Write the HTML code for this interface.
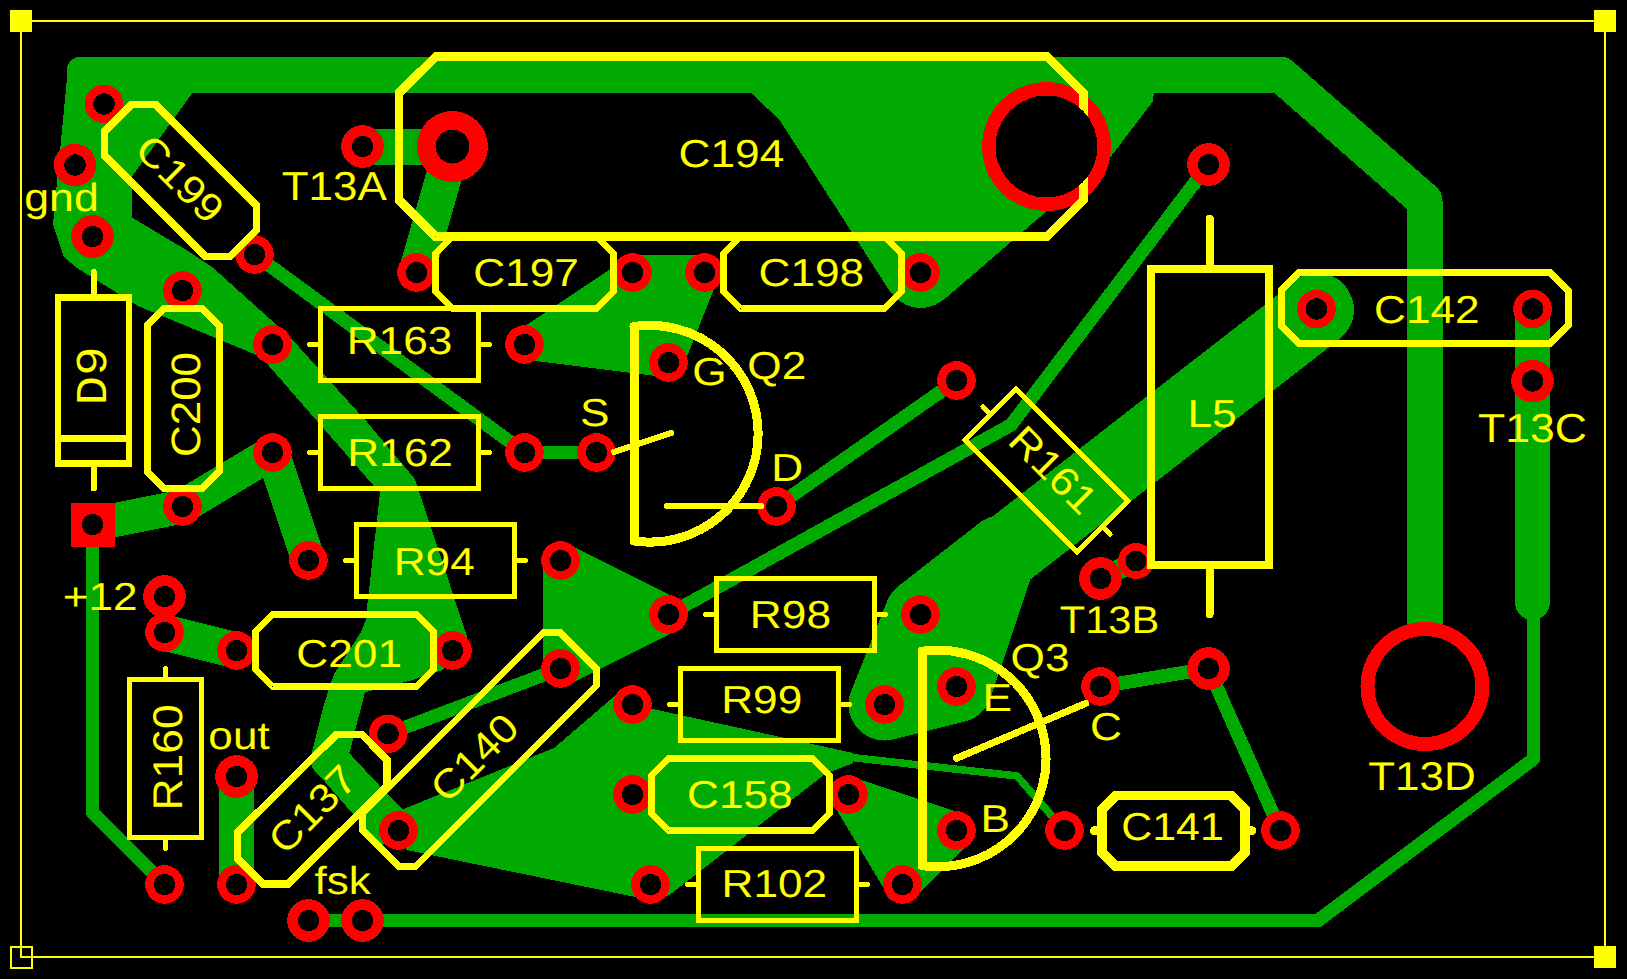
<!DOCTYPE html>
<html><head><meta charset="utf-8"><style>html,body{margin:0;padding:0;background:#000;}svg{display:block}</style></head>
<body><svg width="1627" height="979" viewBox="0 0 1627 979" shape-rendering="crispEdges" text-rendering="geometricPrecision">
<rect width="1627" height="979" fill="#000"/>
<g><polyline points="85,75 1280.5,74.5 1424.5,200.5 1424.5,686.5" fill="none" stroke="#00AA00" stroke-width="36" stroke-linecap="round" stroke-linejoin="round"/><polygon points="68,68 76,57 200,57 192,93.5 132,176.5 131.6,217.3 186.4,250 213.3,268 290,337 367,422 414.6,478.7 467,636 468,650 442.2,670 409,681 361,693.4 352.4,722.9 347.5,751.2 396.7,804 410,840 380,845 312,767 312,752 323,708 334,674 361,632 365.5,621 380,493 318.2,422.4 267.5,364.3 256.5,355 138,306 77,268 64,257 53,224" fill="#00AA00"/><circle cx="79.5" cy="69.5" r="12.5" fill="#00AA00"/><polyline points="347,690 329,760 398.5,830.5" fill="none" stroke="#00AA00" stroke-width="36" stroke-linecap="round" stroke-linejoin="round"/><polyline points="254.5,254.5 524.5,452.5 596.5,452.5" fill="none" stroke="#00AA00" stroke-width="13.5" stroke-linecap="round" stroke-linejoin="round"/><polyline points="362.5,146.5 452.5,146.5 416.5,272.5" fill="none" stroke="#00AA00" stroke-width="36" stroke-linecap="round" stroke-linejoin="round"/><polyline points="92.5,524.5 182.5,506.5 272.5,452.5 308.5,560.5" fill="none" stroke="#00AA00" stroke-width="34" stroke-linecap="round" stroke-linejoin="round"/><polyline points="92.5,524.5 92.5,812.5 164.5,884.5" fill="none" stroke="#00AA00" stroke-width="13.5" stroke-linecap="round" stroke-linejoin="round"/><polyline points="164.5,632.5 236.5,650.5" fill="none" stroke="#00AA00" stroke-width="36" stroke-linecap="round" stroke-linejoin="round"/><polyline points="236.5,776.5 236.5,884.5" fill="none" stroke="#00AA00" stroke-width="35" stroke-linecap="round" stroke-linejoin="round"/><polyline points="308.5,920.5 1318,920.5 1533.5,759 1533.5,600" fill="none" stroke="#00AA00" stroke-width="13.5" stroke-linecap="round" stroke-linejoin="round"/><polyline points="1532.5,308.5 1532.5,602.5" fill="none" stroke="#00AA00" stroke-width="35" stroke-linecap="round" stroke-linejoin="round"/><polygon points="560.5,560.5 668.5,614.5 560.5,668.5" fill="#00AA00" stroke="#00AA00" stroke-width="36" stroke-linejoin="round"/><polyline points="668.5,614.5 1011,425 1208.5,164.5" fill="none" stroke="#00AA00" stroke-width="13.5" stroke-linecap="round" stroke-linejoin="round"/><polyline points="776.5,506.5 956.5,380.5" fill="none" stroke="#00AA00" stroke-width="13.5" stroke-linecap="round" stroke-linejoin="round"/><polyline points="388,733.8 560.5,668.5" fill="none" stroke="#00AA00" stroke-width="13.5" stroke-linecap="round" stroke-linejoin="round"/><polygon points="391.7,813.8 554,748 620.8,690.8 632.5,704.5 852.6,752.9 852.6,763.4 825.5,773.8 670.6,894.2 650,903 633.8,896.7 406.5,850" fill="#00AA00"/><polyline points="852,757.5 1017,776 1064.5,830.5" fill="none" stroke="#00AA00" stroke-width="7.5" stroke-linecap="round" stroke-linejoin="round"/><polyline points="1317.5,310 922,617.5" fill="none" stroke="#00AA00" stroke-width="73" stroke-linecap="round" stroke-linejoin="round"/><circle cx="1317" cy="309" r="36.5" fill="#00AA00"/><polygon points="920.5,614.5 884.5,704.5 956.5,686.5 1002,551" fill="#00AA00" stroke="#00AA00" stroke-width="72" stroke-linejoin="round"/><polyline points="1100.5,578.5 1136.5,560.5" fill="none" stroke="#00AA00" stroke-width="20" stroke-linecap="round" stroke-linejoin="round"/><polyline points="1100.5,686.5 1208.5,668.5 1280.5,830.5" fill="none" stroke="#00AA00" stroke-width="13.5" stroke-linecap="round" stroke-linejoin="round"/><polygon points="750.7,92.7 779.3,119.6 890.7,292.7 920.5,290 943.6,300 1046.8,211.2 1106,163 1152.6,101.8 1154,93" fill="#00AA00"/><circle cx="920.5" cy="272.5" r="35.5" fill="#00AA00"/><polygon points="848.5,794.5 956.5,830.5 902.5,884.5" fill="#00AA00" stroke="#00AA00" stroke-width="36" stroke-linejoin="round"/><polyline points="632.5,272.5 704.5,272.5" fill="none" stroke="#00AA00" stroke-width="36" stroke-linecap="round" stroke-linejoin="round"/><polygon points="524.5,344.5 632.5,272.5 704.5,272.5 668.5,362.5" fill="#00AA00" stroke="#00AA00" stroke-width="30" stroke-linejoin="round"/></g>
<g><circle cx="104" cy="104" r="19.3" fill="#FF0000"/><circle cx="254.5" cy="254.5" r="19.3" fill="#FF0000"/><circle cx="182.5" cy="290.5" r="19.3" fill="#FF0000"/><circle cx="416.5" cy="272.5" r="19.3" fill="#FF0000"/><circle cx="632.5" cy="272.5" r="19.3" fill="#FF0000"/><circle cx="704.5" cy="272.5" r="19.3" fill="#FF0000"/><circle cx="920.5" cy="272.5" r="19.3" fill="#FF0000"/><circle cx="272.5" cy="344.5" r="19.3" fill="#FF0000"/><circle cx="524.5" cy="344.5" r="19.3" fill="#FF0000"/><circle cx="272.5" cy="452.5" r="19.3" fill="#FF0000"/><circle cx="524.5" cy="452.5" r="19.3" fill="#FF0000"/><circle cx="182.5" cy="506.5" r="19.3" fill="#FF0000"/><circle cx="308.5" cy="560.5" r="19.3" fill="#FF0000"/><circle cx="560.5" cy="560.5" r="19.3" fill="#FF0000"/><circle cx="164.5" cy="632.5" r="19.3" fill="#FF0000"/><circle cx="236.5" cy="650.5" r="19.3" fill="#FF0000"/><circle cx="452.5" cy="650.5" r="19.3" fill="#FF0000"/><circle cx="164.5" cy="884.5" r="19.3" fill="#FF0000"/><circle cx="236.5" cy="884.5" r="19.3" fill="#FF0000"/><circle cx="388" cy="733.8" r="19.3" fill="#FF0000"/><circle cx="398.5" cy="830.5" r="19.3" fill="#FF0000"/><circle cx="560.5" cy="668.5" r="19.3" fill="#FF0000"/><circle cx="668.5" cy="362.5" r="19.3" fill="#FF0000"/><circle cx="596.5" cy="452.5" r="19.3" fill="#FF0000"/><circle cx="776.5" cy="506.5" r="19.3" fill="#FF0000"/><circle cx="668.5" cy="614.5" r="19.3" fill="#FF0000"/><circle cx="920.5" cy="614.5" r="19.3" fill="#FF0000"/><circle cx="956.5" cy="380.5" r="19.3" fill="#FF0000"/><circle cx="632.5" cy="704.5" r="19.3" fill="#FF0000"/><circle cx="884.5" cy="704.5" r="19.3" fill="#FF0000"/><circle cx="956.5" cy="686.5" r="19.3" fill="#FF0000"/><circle cx="956.5" cy="830.5" r="19.3" fill="#FF0000"/><circle cx="1100.5" cy="686.5" r="19.3" fill="#FF0000"/><circle cx="632.5" cy="794.5" r="19.3" fill="#FF0000"/><circle cx="848.5" cy="794.5" r="19.3" fill="#FF0000"/><circle cx="650.5" cy="884.5" r="19.3" fill="#FF0000"/><circle cx="902.5" cy="884.5" r="19.3" fill="#FF0000"/><circle cx="1064.5" cy="830.5" r="19.3" fill="#FF0000"/><circle cx="1280.5" cy="830.5" r="19.3" fill="#FF0000"/><circle cx="1316.5" cy="309" r="19.3" fill="#FF0000"/><circle cx="1532.5" cy="309" r="19.3" fill="#FF0000"/><circle cx="75" cy="165" r="21.3" fill="#FF0000"/><circle cx="92.5" cy="236.5" r="21.3" fill="#FF0000"/><circle cx="362.5" cy="146.5" r="21.3" fill="#FF0000"/><circle cx="164.5" cy="596.5" r="21.3" fill="#FF0000"/><circle cx="236.5" cy="776.5" r="21.3" fill="#FF0000"/><circle cx="308.5" cy="920.5" r="21.3" fill="#FF0000"/><circle cx="362.5" cy="920.5" r="21.3" fill="#FF0000"/><circle cx="1208.5" cy="164.5" r="21.3" fill="#FF0000"/><circle cx="1208.5" cy="668.5" r="21.3" fill="#FF0000"/><circle cx="1532.5" cy="381" r="21.3" fill="#FF0000"/><circle cx="1100.5" cy="578.5" r="21.3" fill="#FF0000"/><circle cx="1136" cy="561" r="18" fill="#FF0000"/><circle cx="452.5" cy="146.5" r="35.5" fill="#FF0000"/><circle cx="1046.5" cy="146.5" r="64.5" fill="#FF0000"/><circle cx="1425" cy="686.5" r="64.5" fill="#FF0000"/><rect x="71" y="503" width="43.5" height="43.5" fill="#FF0000"/></g>
<g><polygon points="320.5,308.5 478.5,308.5 478.5,380.5 320.5,380.5" fill="none" stroke="#FFFF00" stroke-width="5" stroke-linejoin="miter"/><polyline points="309.5,344.5 320.5,344.5" fill="none" stroke="#FFFF00" stroke-width="5" stroke-linecap="round" stroke-linejoin="miter"/><polyline points="478.5,344.5 489.5,344.5" fill="none" stroke="#FFFF00" stroke-width="5" stroke-linecap="round" stroke-linejoin="miter"/><polygon points="320.5,416.5 478.5,416.5 478.5,488.5 320.5,488.5" fill="none" stroke="#FFFF00" stroke-width="5" stroke-linejoin="miter"/><polyline points="309.5,452.5 320.5,452.5" fill="none" stroke="#FFFF00" stroke-width="5" stroke-linecap="round" stroke-linejoin="miter"/><polyline points="478.5,452.5 489.5,452.5" fill="none" stroke="#FFFF00" stroke-width="5" stroke-linecap="round" stroke-linejoin="miter"/><polygon points="356.7,524.5 514.7,524.5 514.7,596.5 356.7,596.5" fill="none" stroke="#FFFF00" stroke-width="5" stroke-linejoin="miter"/><polyline points="345.7,560.5 356.7,560.5" fill="none" stroke="#FFFF00" stroke-width="5" stroke-linecap="round" stroke-linejoin="miter"/><polyline points="514.7,560.5 525.7,560.5" fill="none" stroke="#FFFF00" stroke-width="5" stroke-linecap="round" stroke-linejoin="miter"/><polygon points="716.5,578.5 874.5,578.5 874.5,650.5 716.5,650.5" fill="none" stroke="#FFFF00" stroke-width="5" stroke-linejoin="miter"/><polyline points="705.5,614.5 716.5,614.5" fill="none" stroke="#FFFF00" stroke-width="5" stroke-linecap="round" stroke-linejoin="miter"/><polyline points="874.5,614.5 885.5,614.5" fill="none" stroke="#FFFF00" stroke-width="5" stroke-linecap="round" stroke-linejoin="miter"/><polygon points="680.5,668.5 838.5,668.5 838.5,740.5 680.5,740.5" fill="none" stroke="#FFFF00" stroke-width="5" stroke-linejoin="miter"/><polyline points="669.5,704.5 680.5,704.5" fill="none" stroke="#FFFF00" stroke-width="5" stroke-linecap="round" stroke-linejoin="miter"/><polyline points="838.5,704.5 849.5,704.5" fill="none" stroke="#FFFF00" stroke-width="5" stroke-linecap="round" stroke-linejoin="miter"/><polygon points="698.5,848.5 856.5,848.5 856.5,920.5 698.5,920.5" fill="none" stroke="#FFFF00" stroke-width="5" stroke-linejoin="miter"/><polyline points="687.5,884.5 698.5,884.5" fill="none" stroke="#FFFF00" stroke-width="5" stroke-linecap="round" stroke-linejoin="miter"/><polyline points="856.5,884.5 867.5,884.5" fill="none" stroke="#FFFF00" stroke-width="5" stroke-linecap="round" stroke-linejoin="miter"/><polygon points="201.8,679.5 201.8,837.5 129.8,837.5 129.8,679.5" fill="none" stroke="#FFFF00" stroke-width="5" stroke-linejoin="miter"/><polyline points="165.8,668.5 165.8,679.5" fill="none" stroke="#FFFF00" stroke-width="5" stroke-linecap="round" stroke-linejoin="miter"/><polyline points="165.8,837.5 165.8,848.5" fill="none" stroke="#FFFF00" stroke-width="5" stroke-linecap="round" stroke-linejoin="miter"/><polygon points="1016.1,389.2 1127.8,500.9 1076.9,551.8 965.2,440.1" fill="none" stroke="#FFFF00" stroke-width="5" stroke-linejoin="miter"/><polyline points="982.9,406.9 990.6,414.6" fill="none" stroke="#FFFF00" stroke-width="5" stroke-linecap="round" stroke-linejoin="miter"/><polyline points="1102.4,526.4 1110.1,534.1" fill="none" stroke="#FFFF00" stroke-width="5" stroke-linecap="round" stroke-linejoin="miter"/><polygon points="435.5,253.5 452.5,236.5 596.5,236.5 613.5,253.5 613.5,291.5 596.5,308.5 452.5,308.5 435.5,291.5" fill="none" stroke="#FFFF00" stroke-width="7" stroke-linejoin="miter"/><polygon points="723.5,253.5 740.5,236.5 884.5,236.5 901.5,253.5 901.5,291.5 884.5,308.5 740.5,308.5 723.5,291.5" fill="none" stroke="#FFFF00" stroke-width="7" stroke-linejoin="miter"/><polygon points="255.5,631.5 272.5,614.5 416.5,614.5 433.5,631.5 433.5,669.5 416.5,686.5 272.5,686.5 255.5,669.5" fill="none" stroke="#FFFF00" stroke-width="7" stroke-linejoin="miter"/><polygon points="651.5,775.5 668.5,758.5 812.5,758.5 829.5,775.5 829.5,813.5 812.5,830.5 668.5,830.5 651.5,813.5" fill="none" stroke="#FFFF00" stroke-width="7" stroke-linejoin="miter"/><polygon points="202.4,308.5 219.4,325.5 219.4,471.5 202.4,488.5 164.4,488.5 147.4,471.5 147.4,325.5 164.4,308.5" fill="none" stroke="#FFFF00" stroke-width="7" stroke-linejoin="miter"/><polygon points="131.6,104.7 155.6,104.7 256.6,205.7 256.6,229.8 229.8,256.6 205.7,256.6 104.7,155.6 104.7,131.6" fill="none" stroke="#FFFF00" stroke-width="7.5" stroke-linejoin="miter"/><polygon points="237.3,858.3 237.3,832.9 336.4,734.4 361.8,734.4 387.2,760.0 387.2,785.4 288.1,883.9 262.7,883.9" fill="none" stroke="#FFFF00" stroke-width="7.5" stroke-linejoin="miter"/><polygon points="362.8,830.1 362.8,813.2 543.2,632.8 560.1,632.8 596.2,668.9 596.2,685.8 415.8,866.2 398.9,866.2" fill="none" stroke="#FFFF00" stroke-width="7" stroke-linejoin="miter"/><polygon points="1101.9,809.5 1115.9,795.5 1231.3,795.5 1245.3,809.5 1245.3,852.2 1231.3,866.2 1115.9,866.2 1101.9,852.2" fill="none" stroke="#FFFF00" stroke-width="9.7" stroke-linejoin="miter"/><polyline points="1094.5,830.8 1100,830.8" fill="none" stroke="#FFFF00" stroke-width="9" stroke-linecap="round" stroke-linejoin="miter"/><polyline points="1247,830.8 1252,830.8" fill="none" stroke="#FFFF00" stroke-width="9" stroke-linecap="round" stroke-linejoin="miter"/><polygon points="1281.0,290.3 1299.0,272.3 1550.0,272.3 1568.0,290.3 1568.0,325.7 1550.0,343.7 1299.0,343.7 1281.0,325.7" fill="none" stroke="#FFFF00" stroke-width="7" stroke-linejoin="miter"/><polygon points="399,93 435.5,56.8 1047,56.8 1083.5,93 1083.5,200 1047,236.5 435.5,236.5 399,200" fill="none" stroke="#FFFF00" stroke-width="8.7" stroke-linejoin="miter"/><polygon points="58,297.5 129,297.5 129,463.5 58,463.5" fill="none" stroke="#FFFF00" stroke-width="6.4" stroke-linejoin="miter"/><polyline points="58,438.5 129,438.5" fill="none" stroke="#FFFF00" stroke-width="6.4" stroke-linecap="butt" stroke-linejoin="miter"/><polyline points="93.7,272 93.7,297" fill="none" stroke="#FFFF00" stroke-width="6" stroke-linecap="round" stroke-linejoin="miter"/><polyline points="93.7,464 93.7,488.5" fill="none" stroke="#FFFF00" stroke-width="6" stroke-linecap="round" stroke-linejoin="miter"/><polygon points="1150.6,268.8 1268.7,268.8 1268.7,564.7 1150.6,564.7" fill="none" stroke="#FFFF00" stroke-width="8" stroke-linejoin="miter"/><polyline points="1209.7,218.7 1209.7,268" fill="none" stroke="#FFFF00" stroke-width="8" stroke-linecap="round" stroke-linejoin="miter"/><polyline points="1209.7,565 1209.7,614.2" fill="none" stroke="#FFFF00" stroke-width="8" stroke-linecap="round" stroke-linejoin="miter"/><path d="M634,326.5 L634,541 A108.4,108.4 0 1 0 634,326.5 Z" fill="none" stroke="#FFFF00" stroke-width="9" stroke-linejoin="round"/><polyline points="614.1,452 671.4,432.8" fill="none" stroke="#FFFF00" stroke-width="6" stroke-linecap="round" stroke-linejoin="miter"/><polyline points="667.4,505.9 760.8,505.9" fill="none" stroke="#FFFF00" stroke-width="6.5" stroke-linecap="round" stroke-linejoin="miter"/><path d="M922,651.3 L922,865.6 A108.3,108.3 0 1 0 922,651.3 Z" fill="none" stroke="#FFFF00" stroke-width="9" stroke-linejoin="round"/><polyline points="956.4,758.3 1085.5,703.5" fill="none" stroke="#FFFF00" stroke-width="7" stroke-linecap="round" stroke-linejoin="miter"/><rect x="21" y="21" width="1584" height="936" fill="none" stroke="#FFFF00" stroke-width="2"/><rect x="10" y="10" width="22" height="22" fill="#FFFF00"/><rect x="1594" y="10" width="22" height="22" fill="#FFFF00"/><rect x="1594" y="946" width="22" height="22" fill="#FFFF00"/><rect x="11" y="947" width="21" height="21" fill="none" stroke="#FFFF00" stroke-width="2"/></g>
<g shape-rendering="auto"><text transform="translate(399.5 354.3) scale(1.134 1)" font-family="Liberation Sans" font-size="39" fill="#FFFF00" text-anchor="middle">R163</text><text transform="translate(400 465.8) scale(1.134 1)" font-family="Liberation Sans" font-size="39" fill="#FFFF00" text-anchor="middle">R162</text><text transform="translate(434.2 575.3) scale(1.134 1)" font-family="Liberation Sans" font-size="39" fill="#FFFF00" text-anchor="middle">R94</text><text transform="translate(790.4 627.8) scale(1.134 1)" font-family="Liberation Sans" font-size="39" fill="#FFFF00" text-anchor="middle">R98</text><text transform="translate(761.7 713.4) scale(1.134 1)" font-family="Liberation Sans" font-size="39" fill="#FFFF00" text-anchor="middle">R99</text><text transform="translate(774.3 897.4) scale(1.134 1)" font-family="Liberation Sans" font-size="39" fill="#FFFF00" text-anchor="middle">R102</text><text transform="translate(526 286.2) scale(1.134 1)" font-family="Liberation Sans" font-size="39" fill="#FFFF00" text-anchor="middle">C197</text><text transform="translate(811.3 286.2) scale(1.134 1)" font-family="Liberation Sans" font-size="39" fill="#FFFF00" text-anchor="middle">C198</text><text transform="translate(349.1 666.5) scale(1.134 1)" font-family="Liberation Sans" font-size="39" fill="#FFFF00" text-anchor="middle">C201</text><text transform="translate(739.8 808.3) scale(1.134 1)" font-family="Liberation Sans" font-size="39" fill="#FFFF00" text-anchor="middle">C158</text><text transform="translate(1172.5 839.6) scale(1.1 1)" font-family="Liberation Sans" font-size="39" fill="#FFFF00" text-anchor="middle">C141</text><text transform="translate(1426.8 323.3) scale(1.134 1)" font-family="Liberation Sans" font-size="39" fill="#FFFF00" text-anchor="middle">C142</text><text transform="translate(731.4 167.2) scale(1.134 1)" font-family="Liberation Sans" font-size="39" fill="#FFFF00" text-anchor="middle">C194</text><text transform="translate(1212 427.4) scale(1.134 1)" font-family="Liberation Sans" font-size="39" fill="#FFFF00" text-anchor="middle">L5</text><text transform="translate(776.8 378.5) scale(1.134 1)" font-family="Liberation Sans" font-size="39" fill="#FFFF00" text-anchor="middle">Q2</text><text transform="translate(1040 671) scale(1.134 1)" font-family="Liberation Sans" font-size="39" fill="#FFFF00" text-anchor="middle">Q3</text><text transform="translate(334.2 200.3) scale(1.085 1)" font-family="Liberation Sans" font-size="40.5" fill="#FFFF00" text-anchor="middle">T13A</text><text transform="translate(1109.5 633.4) scale(1.08 1)" font-family="Liberation Sans" font-size="38.5" fill="#FFFF00" text-anchor="middle">T13B</text><text transform="translate(1532.5 441.6) scale(1.1 1)" font-family="Liberation Sans" font-size="40.5" fill="#FFFF00" text-anchor="middle">T13C</text><text transform="translate(1422 789.5) scale(1.1 1)" font-family="Liberation Sans" font-size="40" fill="#FFFF00" text-anchor="middle">T13D</text><text transform="translate(709.5 385.2) scale(1.134 1)" font-family="Liberation Sans" font-size="39" fill="#FFFF00" text-anchor="middle">G</text><text transform="translate(594.8 425.7) scale(1.134 1)" font-family="Liberation Sans" font-size="39" fill="#FFFF00" text-anchor="middle">S</text><text transform="translate(787.2 480.7) scale(1.134 1)" font-family="Liberation Sans" font-size="39" fill="#FFFF00" text-anchor="middle">D</text><text transform="translate(997.3 711.3) scale(1.134 1)" font-family="Liberation Sans" font-size="39" fill="#FFFF00" text-anchor="middle">E</text><text transform="translate(995.3 831.5) scale(1.134 1)" font-family="Liberation Sans" font-size="39" fill="#FFFF00" text-anchor="middle">B</text><text transform="translate(1106 740) scale(1.134 1)" font-family="Liberation Sans" font-size="39" fill="#FFFF00" text-anchor="middle">C</text><text transform="translate(61.5 210.6) scale(1.13 1)" font-family="Liberation Sans" font-size="39.5" fill="#FFFF00" text-anchor="middle">gnd</text><text transform="translate(100.2 609.8) scale(1.13 1)" font-family="Liberation Sans" font-size="39" fill="#FFFF00" text-anchor="middle">+12</text><text transform="translate(239 749.2) scale(1.13 1)" font-family="Liberation Sans" font-size="39" fill="#FFFF00" text-anchor="middle">out</text><text transform="translate(342.6 894.3) scale(1.13 1)" font-family="Liberation Sans" font-size="39" fill="#FFFF00" text-anchor="middle">fsk</text><text transform="translate(167 757.5) rotate(-90) scale(1.07 1) translate(0 14.86)" font-family="Liberation Sans" font-size="41.5" fill="#FFFF00" text-anchor="middle">R160</text><text transform="translate(185.6 404.5) rotate(-90) scale(1.07 1) translate(0 14.68)" font-family="Liberation Sans" font-size="41" fill="#FFFF00" text-anchor="middle">C200</text><text transform="translate(90.5 376) rotate(-90) scale(1.12 1) translate(0 15.75)" font-family="Liberation Mono" font-size="44" fill="#FFFF00" text-anchor="middle">D9</text><text transform="translate(180.3 178.6) rotate(45) scale(1.1 1) translate(0 14.32)" font-family="Liberation Sans" font-size="40" fill="#FFFF00" text-anchor="middle">C199</text><text transform="translate(312 809) rotate(-45) scale(1.1 1) translate(0 14.32)" font-family="Liberation Sans" font-size="40" fill="#FFFF00" text-anchor="middle">C137</text><text transform="translate(474.1 757.3) rotate(-45) scale(1.1 1) translate(0 14.32)" font-family="Liberation Sans" font-size="40" fill="#FFFF00" text-anchor="middle">C140</text><text transform="translate(1053.6 469.6) rotate(45) scale(1.1 1) translate(0 14.32)" font-family="Liberation Sans" font-size="40" fill="#FFFF00" text-anchor="middle">R161</text></g>
<g><circle cx="104" cy="104" r="10.7" fill="#000"/><circle cx="254.5" cy="254.5" r="10.7" fill="#000"/><circle cx="182.5" cy="290.5" r="10.7" fill="#000"/><circle cx="416.5" cy="272.5" r="10.7" fill="#000"/><circle cx="632.5" cy="272.5" r="10.7" fill="#000"/><circle cx="704.5" cy="272.5" r="10.7" fill="#000"/><circle cx="920.5" cy="272.5" r="10.7" fill="#000"/><circle cx="272.5" cy="344.5" r="10.7" fill="#000"/><circle cx="524.5" cy="344.5" r="10.7" fill="#000"/><circle cx="272.5" cy="452.5" r="10.7" fill="#000"/><circle cx="524.5" cy="452.5" r="10.7" fill="#000"/><circle cx="182.5" cy="506.5" r="10.7" fill="#000"/><circle cx="308.5" cy="560.5" r="10.7" fill="#000"/><circle cx="560.5" cy="560.5" r="10.7" fill="#000"/><circle cx="164.5" cy="632.5" r="10.7" fill="#000"/><circle cx="236.5" cy="650.5" r="10.7" fill="#000"/><circle cx="452.5" cy="650.5" r="10.7" fill="#000"/><circle cx="164.5" cy="884.5" r="10.7" fill="#000"/><circle cx="236.5" cy="884.5" r="10.7" fill="#000"/><circle cx="388" cy="733.8" r="10.7" fill="#000"/><circle cx="398.5" cy="830.5" r="10.7" fill="#000"/><circle cx="560.5" cy="668.5" r="10.7" fill="#000"/><circle cx="668.5" cy="362.5" r="10.7" fill="#000"/><circle cx="596.5" cy="452.5" r="10.7" fill="#000"/><circle cx="776.5" cy="506.5" r="10.7" fill="#000"/><circle cx="668.5" cy="614.5" r="10.7" fill="#000"/><circle cx="920.5" cy="614.5" r="10.7" fill="#000"/><circle cx="956.5" cy="380.5" r="10.7" fill="#000"/><circle cx="632.5" cy="704.5" r="10.7" fill="#000"/><circle cx="884.5" cy="704.5" r="10.7" fill="#000"/><circle cx="956.5" cy="686.5" r="10.7" fill="#000"/><circle cx="956.5" cy="830.5" r="10.7" fill="#000"/><circle cx="1100.5" cy="686.5" r="10.7" fill="#000"/><circle cx="632.5" cy="794.5" r="10.7" fill="#000"/><circle cx="848.5" cy="794.5" r="10.7" fill="#000"/><circle cx="650.5" cy="884.5" r="10.7" fill="#000"/><circle cx="902.5" cy="884.5" r="10.7" fill="#000"/><circle cx="1064.5" cy="830.5" r="10.7" fill="#000"/><circle cx="1280.5" cy="830.5" r="10.7" fill="#000"/><circle cx="1316.5" cy="309" r="10.7" fill="#000"/><circle cx="1532.5" cy="309" r="10.7" fill="#000"/><circle cx="75" cy="165" r="10.7" fill="#000"/><circle cx="92.5" cy="236.5" r="10.7" fill="#000"/><circle cx="362.5" cy="146.5" r="10.7" fill="#000"/><circle cx="164.5" cy="596.5" r="10.7" fill="#000"/><circle cx="236.5" cy="776.5" r="10.7" fill="#000"/><circle cx="308.5" cy="920.5" r="10.7" fill="#000"/><circle cx="362.5" cy="920.5" r="10.7" fill="#000"/><circle cx="1208.5" cy="164.5" r="10.7" fill="#000"/><circle cx="1208.5" cy="668.5" r="10.7" fill="#000"/><circle cx="1532.5" cy="381" r="10.7" fill="#000"/><circle cx="1100.5" cy="578.5" r="10.7" fill="#000"/><circle cx="1136" cy="561" r="10.5" fill="#000"/><circle cx="452.5" cy="146.5" r="17" fill="#000"/><circle cx="1046.5" cy="146.5" r="51" fill="#000"/><circle cx="1425" cy="686.5" r="50.5" fill="#000"/><circle cx="92.5" cy="524.5" r="10.7" fill="#000"/></g>
</svg></body></html>
